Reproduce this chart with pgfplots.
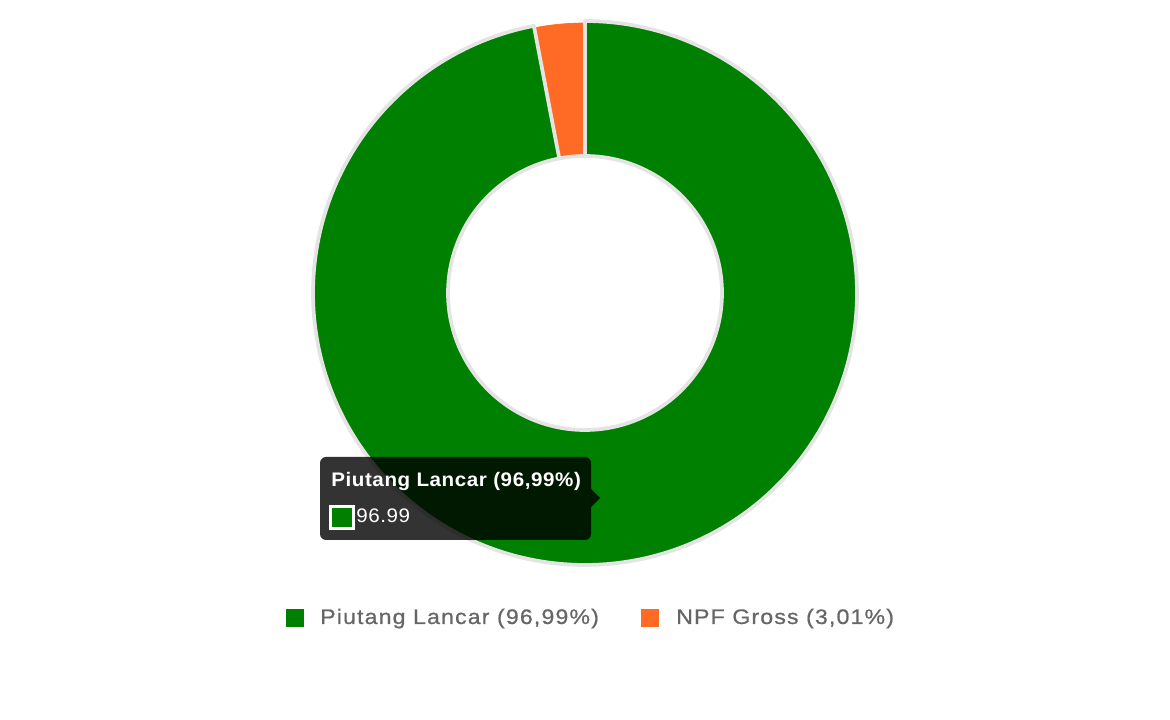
\documentclass[border=0pt]{standalone}
\usepackage{pgfplots}
\pgfplotsset{compat=1.18}
\usepackage{pgfplotstable}
\usepackage{fontspec}
\setmainfont{Liberation Sans}
\newfontfamily\legendfont[FakeStretch=1.1, LetterSpace=5.5, FakeBold=0.8]{Liberation Sans}
\newfontfamily\tipfont[FakeStretch=1.05, LetterSpace=3]{Liberation Sans}
\definecolor{lancar}{HTML}{008000}
\definecolor{npf}{HTML}{FF6A24}
\definecolor{ringborder}{HTML}{E4E4E4}
\definecolor{legendtext}{HTML}{666666}

% share of each slice, in percent
\pgfplotstableread{
label value
Lancar 96.99
NPF 3.01
}\piedata

\begin{document}
\begin{tikzpicture}
\pgfplotstablegetelem{0}{value}\of\piedata \let\vA\pgfplotsretval
\pgfplotstablegetelem{1}{value}\of\piedata \let\vB\pgfplotsretval
% chart starts at the top and runs clockwise
\pgfmathsetmacro\angA{90-3.6*\vA}
\pgfmathsetmacro\angB{\angA-3.6*\vB}
\begin{axis}[
    width=877.5pt, height=540pt, scale only axis,
    xmin=0, xmax=1170, ymin=0, ymax=720,
    hide axis, clip=false,
]
\path (axis cs:0,0) rectangle (axis cs:1170,720);

% NPF Gross slice
\addplot[fill=npf, draw=npf, line width=0.5pt, domain=\angB:\angA, samples=40]
    ({585+270*cos(x)}, {427+270*sin(x)}) -- (axis cs:585,427) -- cycle;
% Piutang Lancar slice (hovered, with border)
\addplot[fill=lancar, draw=ringborder, line width=2.8pt, line join=round,
    domain=\angA:90, samples=300]
    ({585+272*cos(x)}, {427+272*sin(x)}) -- (axis cs:585,427) -- cycle;
% hole
\addplot[fill=white, draw=ringborder, line width=2.8pt, domain=0:360, samples=200]
    ({585+137*cos(x)}, {427+137*sin(x)}) -- cycle;

% tooltip
\fill[black, opacity=0.8, rounded corners=4.5pt]
    (axis cs:320,263) -- (axis cs:591,263) -- (axis cs:591,180)
    -- (axis cs:320,180) -- cycle;
\fill[black, opacity=0.8]
    (axis cs:591,231) -- (axis cs:600,222) -- (axis cs:591,213) -- cycle;
\node[anchor=base west, inner sep=0pt, text=white,
    font=\tipfont\fontsize{14.7pt}{17pt}\selectfont\bfseries]
    at (axis cs:331,233) {Piutang Lancar (96,99\%)};
\fill[white] (axis cs:329,215) rectangle (axis cs:355,190);
\fill[lancar] (axis cs:332,212) rectangle (axis cs:352,193);
\node[anchor=base west, inner sep=0pt, text=white,
    font=\tipfont\fontsize{14.7pt}{17pt}\selectfont]
    at (axis cs:356,197) {96.99};

% legend
\fill[lancar] (axis cs:286,111) rectangle (axis cs:304,93);
\node[anchor=base west, inner sep=0pt, text=legendtext,
    font=\legendfont\fontsize{15.75pt}{19pt}\selectfont]
    at (axis cs:320,96) {Piutang Lancar (96,99\%)};
\fill[npf] (axis cs:641,111) rectangle (axis cs:659,93);
\node[anchor=base west, inner sep=0pt, text=legendtext,
    font=\legendfont\fontsize{15.75pt}{19pt}\selectfont]
    at (axis cs:676,96) {NPF Gross (3,01\%)};
\end{axis}
\end{tikzpicture}
\end{document}
